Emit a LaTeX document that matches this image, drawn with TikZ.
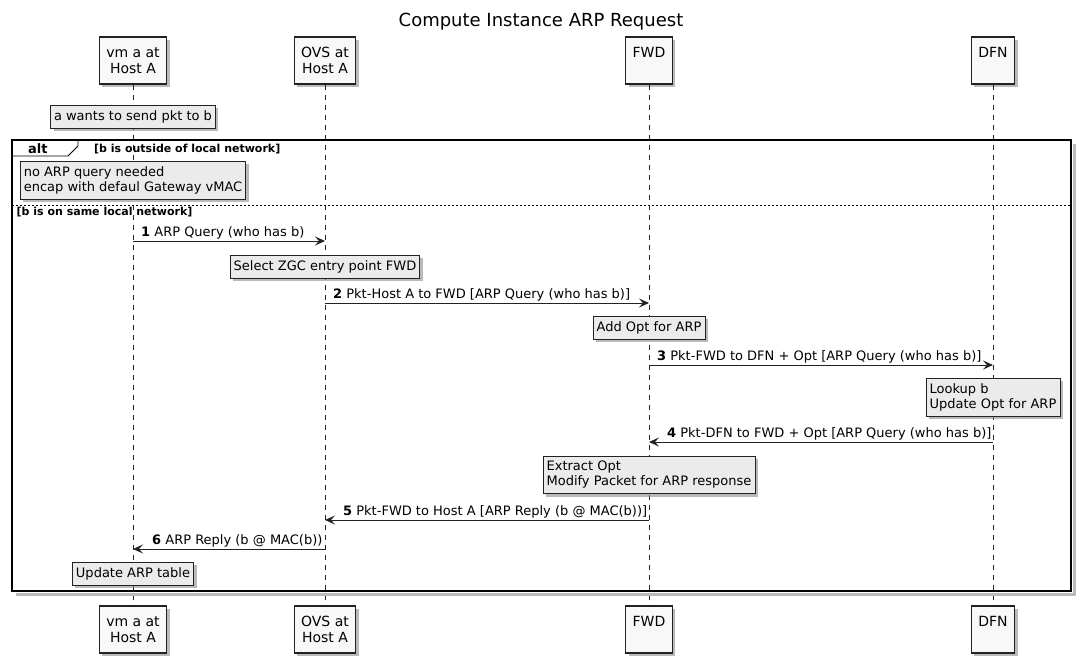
\documentclass[tikz,border=0pt]{standalone}
\usepackage{fontspec}
\setmainfont{DejaVu Sans}
\usepackage{tikz}
\usetikzlibrary{arrows.meta,shadows}
\definecolor{umlline}{HTML}{222222}
\definecolor{umlbox}{HTML}{F8F8F8}
\definecolor{umlnote}{HTML}{EBEBEB}
\definecolor{umlshadow}{HTML}{8C8C8C}

\begin{document}
\begin{tikzpicture}[x=1pt,y=-1pt,
    part/.style={draw=umlline,fill=umlbox,line width=1.1pt,align=center,minimum height=47pt,inner xsep=7pt,font=\fontsize{14}{15.5}\selectfont,drop shadow={shadow xshift=3pt,shadow yshift=-3pt,fill=umlshadow,opacity=.6}},
    note/.style={draw=umlline,fill=umlnote,line width=0.7pt,align=left,anchor=north,inner xsep=3.5pt,inner ysep=5pt,font=\fontsize{13}{15}\selectfont,drop shadow={shadow xshift=3pt,shadow yshift=-3pt,fill=umlshadow,opacity=.6}},
    life/.style={umlline,line width=0.8pt,dash pattern=on 5pt off 5pt},
    msg/.style={umlline,line width=0.9pt,-{Stealth[length=10pt,width=9pt,inset=4pt]}},
    lbl/.style={font=\fontsize{13}{15}\selectfont,inner sep=0pt,anchor=base west},
    guard/.style={font=\bfseries\fontsize{11}{13}\selectfont,inner sep=0pt,anchor=base west}] %
    \useasboundingbox (0,0) rectangle (1088,671);
    \node[font=\fontsize{18}{20}\selectfont] (title) at (541,22) {Compute Instance ARP Request};
    % participants, top and bottom
    \node[part] (vma) at (133,60.5) {vm a at\\Host A} ; %
    \node[part] (ovs) at (325,60.5) {OVS at\\Host A} ; %
    \node[part] (fwd) at (649,60.5) {FWD\\ } ; %
    \node[part] (dfn) at (993,60.5) {DFN\\ } ; %
    \node[part] (vmab) at (133,629.5) {vm a at\\Host A} ; %
    \node[part] (ovsb) at (325,629.5) {OVS at\\Host A} ; %
    \node[part] (fwdb) at (649,629.5) {FWD\\ } ; %
    \node[part] (dfnb) at (993,629.5) {DFN\\ } ; %
    \draw[life] (vma.south)--(vmab.north) ;
    \draw[life] (ovs.south)--(ovsb.north) ;
    \draw[life] (fwd.south)--(fwdb.north) ;
    \draw[life] (dfn.south)--(dfnb.north) ;
    \node[note] (wants) at (vma |- 0,105) {a wants to send pkt to b};
    % alt frame
    \draw[umlshadow!60,line width=2.5pt] (1074.5,144)--(1074.5,594.5)--(16,594.5);
    \draw[black,line width=2.2pt] (12,140) rectangle (1071,591);
    \draw[black,line width=0.8pt] (12,156)--(68,156)--(78,146)--(78,140);
    \node[guard,font=\bfseries\fontsize{13}{15}\selectfont] (alt) at (28,153.5) {alt};
    \node[guard] (g1) at (94,152.5) {[b is outside of local network]};
    \node[note] (noarp) at (vma |- 0,161) {no ARP query needed\\encap with defaul Gateway vMAC};
    \draw[black,line width=0.8pt,dash pattern=on 2pt off 2pt] (12,205)--(1071,205);
    \node[guard] (g2) at (16.5,216) {[b is on same local network]};
    % messages
    \coordinate (y1) at (0,241);
    \coordinate (y2) at (0,303);
    \coordinate (y3) at (0,365);
    \coordinate (y4) at (0,442);
    \coordinate (y5) at (0,520);
    \coordinate (y6) at (0,549);
    \draw[msg] (vma |- y1)--(ovs |- y1);
    \node[lbl] (l1) at (141,236.5) {\textbf{1} ARP Query (who has b)};
    \node[note] (zgc) at (ovs |- 0,255) {Select ZGC entry point FWD};
    \draw[msg] (ovs |- y2)--(fwd |- y2);
    \node[lbl] (l2) at (333,298.5) {\textbf{2} Pkt-Host A to FWD [ARP Query (who has b)]};
    \node[note] (addopt) at (fwd |- 0,316) {Add Opt for ARP};
    \draw[msg] (fwd |- y3)--(dfn |- y3);
    \node[lbl] (l3) at (657,360.5) {\textbf{3} Pkt-FWD to DFN + Opt [ARP Query (who has b)]};
    \node[note] (lookup) at (dfn |- 0,378) {Lookup b\\Update Opt for ARP};
    \draw[msg] (dfn |- y4)--(fwd |- y4);
    \node[lbl] (l4) at (667,437.5) {\textbf{4} Pkt-DFN to FWD + Opt [ARP Query (who has b)]};
    \node[note] (extract) at (fwd |- 0,456) {Extract Opt\\Modify Packet for ARP response};
    \draw[msg] (fwd |- y5)--(ovs |- y5);
    \node[lbl] (l5) at (343,515.5) {\textbf{5} Pkt-FWD to Host A [ARP Reply (b @ MAC(b))]};
    \draw[msg] (ovs |- y6)--(vma |- y6);
    \node[lbl] (l6) at (152,544.5) {\textbf{6} ARP Reply (b @ MAC(b))};
    \node[note] (update) at (vma |- 0,562) {Update ARP table};
  \end{tikzpicture}
\end{document}
